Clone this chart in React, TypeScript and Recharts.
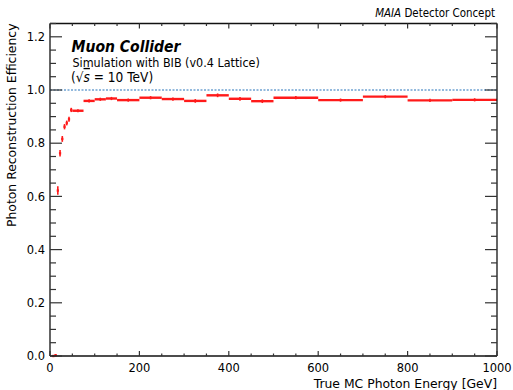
import React from 'react';
import { ComposedChart, Scatter, XAxis, YAxis, ErrorBar, ReferenceLine } from 'recharts';

// Efficiency histogram bins (GeV)
const BIN_LOW = [5, 10, 15, 20, 25, 30, 35, 40, 45, 50, 75, 100, 125, 150, 200, 250, 300, 350, 400, 450, 500, 600, 700, 800, 900];
const BIN_HIGH = [10, 15, 20, 25, 30, 35, 40, 45, 50, 75, 100, 125, 150, 200, 250, 300, 350, 400, 450, 500, 600, 700, 800, 900, 1000];
const EFFICIENCY = [0.0, 0.003, 0.622, 0.762, 0.816, 0.862, 0.876, 0.89, 0.925, 0.922, 0.959, 0.965, 0.968, 0.962, 0.971, 0.966, 0.959, 0.98, 0.967, 0.958, 0.971, 0.962, 0.975, 0.961, 0.963];
const EFF_ERROR = [0.003, 0.004, 0.016, 0.012, 0.011, 0.01, 0.009, 0.009, 0.008, 0.006, 0.006, 0.006, 0.006, 0.006, 0.006, 0.006, 0.007, 0.007, 0.007, 0.007, 0.006, 0.006, 0.006, 0.006, 0.006];

const X_TICKS = [0, 50, 100, 150, 200, 250, 300, 350, 400, 450, 500, 550, 600, 650, 700, 750, 800, 850, 900, 950, 1000];
const X_MAJOR = [0, 200, 400, 600, 800, 1000];
const Y_TICKS = [0, 0.05, 0.1, 0.15, 0.2, 0.25, 0.3, 0.35, 0.4, 0.45, 0.5, 0.55, 0.6, 0.65, 0.7, 0.75, 0.8, 0.85, 0.9, 0.95, 1.0, 1.05, 1.1, 1.15, 1.2, 1.25];
const Y_MAJOR = [0, 0.2, 0.4, 0.6, 0.8, 1.0, 1.2];

const data = BIN_LOW.map((lo, i) => ({
  x: (lo + BIN_HIGH[i]) / 2,
  xerr: (BIN_HIGH[i] - lo) / 2,
  y: EFFICIENCY[i],
  yerr: EFF_ERROR[i],
}));

const FONT = '"DejaVu Sans", sans-serif';
const TICK_COLOR = '#333';
const SY = 1.12;

const isIn = (arr: number[], v: number) => arr.some((m) => Math.abs(m - v) < 1e-9);

function LeftTick(props: any) {
  const { x, y, payload } = props;
  const v = payload.value;
  const major = isIn(Y_MAJOR, v);
  return (
    <g>
      <line x1={x} y1={y} x2={x + (major ? 12 : 6)} y2={y} stroke={TICK_COLOR} strokeWidth={1.2} />
      {major && (
        <text
          transform={`translate(${x - 5},${y}) scale(1,${SY})`}
          textAnchor="end"
          dominantBaseline="central"
          fontSize={11.5}
          fontFamily={FONT}
          fill="#000"
        >
          {v.toFixed(1)}
        </text>
      )}
    </g>
  );
}

function RightTick(props: any) {
  const { x, y, payload } = props;
  const major = isIn(Y_MAJOR, payload.value);
  return <line x1={x} y1={y} x2={x - (major ? 12 : 6)} y2={y} stroke={TICK_COLOR} strokeWidth={1.2} />;
}

function BottomTick(props: any) {
  const { x, y, payload } = props;
  const v = payload.value;
  const major = isIn(X_MAJOR, v);
  return (
    <g>
      <line x1={x} y1={y} x2={x} y2={y - (major ? 5 : 2.5)} stroke={TICK_COLOR} strokeWidth={1.2} />
      {major && (
        <text
          transform={`translate(${x},${y + 15.5}) scale(1,${SY})`}
          textAnchor="middle"
          fontSize={11.5}
          fontFamily={FONT}
          fill="#000"
        >
          {String(v)}
        </text>
      )}
    </g>
  );
}

function TopTick(props: any) {
  const { x, y, payload } = props;
  const major = isIn(X_MAJOR, payload.value);
  return <line x1={x} y1={y} x2={x} y2={y + (major ? 5 : 2.5)} stroke={TICK_COLOR} strokeWidth={1.2} />;
}

const noShape = () => <g />;

export default function App() {
  const axisLine = { stroke: '#111', strokeWidth: 1.3 };
  return (
    <div style={{ position: 'absolute', left: 0, top: 0, width: 513, height: 390, background: '#fff' }}>
      <ComposedChart width={513} height={390} data={data} margin={{ top: 22.5, right: 15, bottom: 33, left: 49 }}>
        <XAxis
          xAxisId="b"
          dataKey="x"
          type="number"
          domain={[0, 1000]}
          allowDataOverflow
          ticks={X_TICKS}
          interval={0}
          height={1}
          tickSize={0}
          tickMargin={0}
          tickLine={false}
          axisLine={axisLine}
          tick={<BottomTick />}
        />
        <XAxis
          xAxisId="t"
          orientation="top"
          dataKey="x"
          type="number"
          domain={[0, 1000]}
          allowDataOverflow
          ticks={X_TICKS}
          interval={0}
          height={1}
          tickSize={0}
          tickMargin={0}
          tickLine={false}
          axisLine={axisLine}
          tick={<TopTick />}
        />
        <YAxis
          yAxisId="l"
          type="number"
          domain={[0, 1.25]}
          allowDataOverflow
          ticks={Y_TICKS}
          interval={0}
          width={1}
          tickSize={0}
          tickMargin={0}
          tickLine={false}
          axisLine={axisLine}
          tick={<LeftTick />}
        />
        <YAxis
          yAxisId="r"
          orientation="right"
          type="number"
          domain={[0, 1.25]}
          allowDataOverflow
          ticks={Y_TICKS}
          interval={0}
          width={1}
          tickSize={0}
          tickMargin={0}
          tickLine={false}
          axisLine={axisLine}
          tick={<RightTick />}
        />
        <ReferenceLine
          xAxisId="b"
          yAxisId="l"
          y={1}
          stroke="#6fa3d2"
          strokeWidth={1.5}
          strokeDasharray="2 1.5"
        />
        <Scatter xAxisId="b" yAxisId="l" dataKey="y" shape={noShape} isAnimationActive={false}>
          <ErrorBar dataKey="xerr" direction="x" width={0} stroke="#ff1a1a" strokeWidth={2.4} isAnimationActive={false} />
          <ErrorBar dataKey="yerr" direction="y" width={0} stroke="#ff1a1a" strokeWidth={1.6} isAnimationActive={false} />
        </Scatter>
        {/* hidden series bound to the mirrored axes so they share the same scale */}
        <Scatter xAxisId="t" yAxisId="r" dataKey="y" shape={noShape} isAnimationActive={false} />
      </ComposedChart>
      <svg
        width={513}
        height={390}
        style={{ position: 'absolute', left: 0, top: 0, pointerEvents: 'none' }}
        fontFamily={FONT}
      >
        <text transform="translate(495,16.5) scale(1,1.15)" textAnchor="end" fontSize={10.3} fill="#000">
          <tspan fontStyle="italic">MAIA</tspan>
          {' Detector Concept'}
        </text>
        <text transform="translate(71.5,52) scale(1,1.15)" fontSize={14} fontWeight="bold" fontStyle="italic" fill="#000">
          Muon Collider
        </text>
        <text transform="translate(72.5,66.5) scale(1,1.12)" fontSize={11.2} fill="#000">
          Simulation with BIB (v0.4 Lattice)
        </text>
        <text transform="translate(71,81.5) scale(1,1.1)" fontSize={12.2} fill="#000">
          {'(√'}
          <tspan fontStyle="italic" style={{ textDecoration: 'overline' }}>s</tspan>
          {' = 10 TeV)'}
        </text>
        <text transform="translate(497,387.5) scale(1,1.04)" textAnchor="end" fontSize={12.4} fill="#000">
          True MC Photon Energy [GeV]
        </text>
        <text transform="translate(15.5,23.5) rotate(-90)" textAnchor="end" fontSize={12.4} fill="#000">
          Photon Reconstruction Efficiency
        </text>
      </svg>
    </div>
  );
}
